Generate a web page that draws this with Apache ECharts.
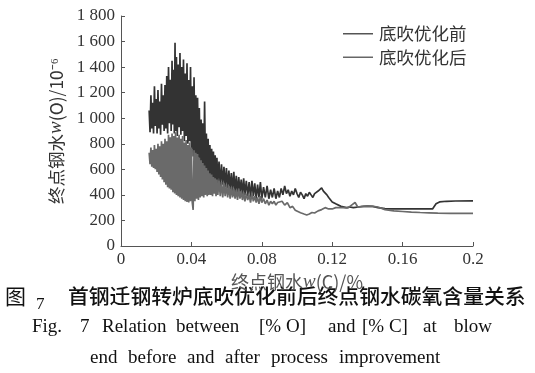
<!DOCTYPE html>
<html>
<head>
<meta charset="utf-8">
<script src="https://cdn.jsdelivr.net/npm/echarts@6/dist/echarts.min.js"></script>
<style>html,body{margin:0;padding:0;background:#fff}#c{width:535px;height:373px}</style>
</head>
<body>
<div id="c"></div>
<script>
const seriesNames = ['底吹优化前', '底吹优化后'];
const xTicks = ['0', '0.04', '0.08', '0.12', '0.16', '0.2'];
const yTicks = ['0', '200', '400', '600', '800', '1 000', '1 200', '1 400', '1 600', '1 800'];

// [w(C) %, w(O) 10^-6]
const before = [
[0.0160,1060],[0.0165,890],[0.0170,1180],[0.0175,920],[0.0180,1120],[0.0185,880],[0.0190,1250],[0.0195,940],
[0.0200,1150],[0.0205,880],[0.0210,1220],[0.0215,920],[0.0220,1130],[0.0225,870],[0.0230,1270],[0.0235,950],
[0.0240,1180],[0.0245,900],[0.0250,1260],[0.0255,920],[0.0260,1330],[0.0265,880],[0.0270,1400],[0.0275,960],
[0.0280,1300],[0.0285,900],[0.0290,1450],[0.0295,950],[0.0300,1380],[0.0303,880],[0.0307,1590],[0.0310,900],
[0.0315,1480],[0.0320,860],[0.0325,1420],[0.0330,930],[0.0335,1510],[0.0340,870],[0.0345,1400],[0.0350,900],
[0.0355,1460],[0.0360,820],[0.0365,1350],[0.0370,860],[0.0375,1430],[0.0380,800],[0.0385,1300],[0.0390,820],
[0.0395,1400],[0.0400,760],[0.0405,1250],[0.0410,700],[0.0415,1320],[0.0420,720],[0.0425,1180],[0.0430,660],
[0.0435,1160],[0.0440,690],[0.0445,1080],[0.0450,620],[0.0455,990],[0.0460,600],[0.0465,960],[0.0470,580],
[0.0475,1130],[0.0480,590],[0.0485,880],[0.0490,560],[0.0495,840],[0.0500,540],[0.0505,790],[0.0510,520],
[0.0515,760],[0.0520,530],[0.0525,740],[0.0530,500],[0.0535,710],[0.0540,510],[0.0545,690],[0.0550,490],
[0.0557,660],[0.0564,470],[0.0571,640],[0.0578,480],[0.0585,620],[0.0592,460],[0.0599,610],[0.0606,450],
[0.0613,590],[0.0620,440],[0.0627,570],[0.0634,430],[0.0641,580],[0.0648,420],[0.0655,550],[0.0662,410],
[0.0669,540],[0.0676,420],[0.0683,520],[0.0690,400],[0.0697,530],[0.0704,400],[0.0712,510],[0.0720,390],
[0.0728,500],[0.0736,380],[0.0744,510],[0.0752,390],[0.0760,490],[0.0768,370],[0.0776,480],[0.0784,380],
[0.0792,500],[0.0800,370],[0.0810,460],[0.0820,380],[0.0830,470],[0.0840,370],[0.0850,440],[0.0860,380],
[0.0870,450],[0.0880,370],[0.0890,430],[0.0900,380],[0.0910,450],[0.0920,400],[0.0930,470],[0.0940,410],
[0.0950,440],[0.0960,390],[0.0970,430],[0.0980,400],[0.0990,450],[0.1000,410],[0.1010,380],[0.1020,420],
[0.1030,400],[0.1040,370],[0.1050,410],[0.1060,390],[0.1070,420],[0.1080,400],[0.1090,380],[0.1100,410],
[0.1110,400],[0.1120,430],[0.1140,455],[0.1150,430],[0.1160,440],[0.1170,400],[0.1180,380],[0.1190,370],
[0.1200,345],[0.1210,360],[0.1220,330],[0.1230,340],[0.1250,310],[0.1260,300],[0.1280,300],[0.1300,305],
[0.1320,300],[0.1350,305],[0.1380,310],[0.1400,312],[0.1430,310],[0.1460,300],[0.1500,292],[0.1530,290],
[0.1600,290],[0.1700,290],[0.1770,290],[0.1790,330],[0.1810,345],[0.1850,350],[0.1900,352],[0.2000,353]
];

const after = [
[0.0160,730],[0.0165,640],[0.0170,770],[0.0175,620],[0.0180,750],[0.0185,610],[0.0190,790],[0.0195,600],
[0.0200,760],[0.0205,580],[0.0210,800],[0.0215,560],[0.0220,780],[0.0225,540],[0.0230,820],[0.0235,520],
[0.0240,800],[0.0245,500],[0.0250,840],[0.0255,480],[0.0260,820],[0.0265,460],[0.0270,870],[0.0275,450],
[0.0280,850],[0.0285,440],[0.0290,880],[0.0295,420],[0.0300,860],[0.0305,410],[0.0310,890],[0.0315,400],
[0.0320,850],[0.0325,390],[0.0330,870],[0.0335,380],[0.0340,840],[0.0345,370],[0.0350,860],[0.0355,360],
[0.0360,810],[0.0365,350],[0.0370,830],[0.0375,345],[0.0380,790],[0.0385,340],[0.0390,810],[0.0395,350],
[0.0400,770],[0.0405,340],[0.0410,282],[0.0415,750],[0.0420,350],[0.0425,730],[0.0430,370],[0.0435,720],
[0.0440,360],[0.0445,690],[0.0450,380],[0.0455,670],[0.0460,390],[0.0465,650],[0.0470,380],[0.0475,630],
[0.0480,400],[0.0485,610],[0.0490,390],[0.0495,590],[0.0500,400],[0.0505,570],[0.0510,400],[0.0515,560],
[0.0520,390],[0.0525,540],[0.0530,410],[0.0535,530],[0.0540,390],[0.0545,520],[0.0550,400],[0.0557,510],
[0.0564,390],[0.0571,500],[0.0578,380],[0.0585,490],[0.0592,390],[0.0599,480],[0.0606,380],[0.0613,470],
[0.0620,370],[0.0627,460],[0.0634,380],[0.0641,450],[0.0648,370],[0.0655,440],[0.0662,360],[0.0669,450],
[0.0676,370],[0.0683,430],[0.0690,360],[0.0697,420],[0.0704,350],[0.0712,410],[0.0720,360],[0.0728,400],
[0.0736,340],[0.0744,410],[0.0752,350],[0.0760,390],[0.0768,340],[0.0776,380],[0.0784,330],[0.0792,390],
[0.0800,340],[0.0810,370],[0.0820,330],[0.0830,360],[0.0840,320],[0.0850,350],[0.0860,330],[0.0870,350],
[0.0880,320],[0.0890,340],[0.0900,330],[0.0915,350],[0.0930,320],[0.0945,340],[0.0960,300],[0.0975,310],
[0.0990,280],[0.1005,270],[0.1020,260],[0.1040,250],[0.1055,243],[0.1070,250],[0.1085,262],[0.1100,258],
[0.1120,275],[0.1140,285],[0.1160,300],[0.1180,290],[0.1200,290],[0.1220,300],[0.1260,300],[0.1290,298],
[0.1310,320],[0.1330,340],[0.1345,305],[0.1370,310],[0.1400,312],[0.1430,310],[0.1460,305],[0.1500,285],
[0.1550,275],[0.1600,270],[0.1650,265],[0.1700,262],[0.1750,260],[0.1800,258],[0.1870,256],[0.2000,256]
];

const chart = echarts.init(document.getElementById('c'), null, {renderer: 'canvas'});
const serif = 'Liberation Serif';
const cjk = 'Noto Sans CJK SC';
const axisColor = '#555';
const capFont = '19px "Liberation Serif"';

function word(text, left, top, font) {
  return {type: 'text', left: left, top: top, style: {text: text, font: font || capFont, fill: '#111'}};
}

chart.setOption({
  animation: false,
  backgroundColor: '#fff',
  grid: {left: 121, right: 62, top: 16, bottom: 127, containLabel: false},
  legend: {
    data: seriesNames,
    orient: 'vertical',
    left: 343,
    top: 25,
    padding: 0,
    itemGap: 6,
    itemWidth: 30,
    itemHeight: 1.5,
    icon: 'rect',
    textStyle: {fontFamily: cjk, fontSize: 17.5, color: '#333', padding: [0, 0, 0, 1]}
  },
  xAxis: {
    type: 'value', min: 0, max: 0.2, interval: 0.04,
    name: '终点钢水{i|w}(C)/%',
    nameLocation: 'middle', nameGap: 19,
    nameTextStyle: {fontFamily: cjk, fontSize: 18, color: '#555',
      rich: {i: {fontFamily: serif, fontStyle: 'italic', fontSize: 19, color: '#555'}}},
    axisLine: {lineStyle: {color: axisColor, width: 1}},
    axisTick: {inside: true, length: 4, lineStyle: {color: axisColor}},
    splitLine: {show: false},
    axisLabel: {fontFamily: serif, fontSize: 17, color: '#333', margin: 5,
      formatter: (v) => xTicks[Math.round(v / 0.04)]}
  },
  yAxis: {
    type: 'value', min: 0, max: 1800, interval: 200,
    name: '终点钢水{i|w}(O)/10⁻⁶',
    nameLocation: 'middle', nameGap: 50, nameRotate: 90,
    nameTextStyle: {fontFamily: cjk, fontSize: 17.5, color: '#333',
      rich: {i: {fontFamily: serif, fontStyle: 'italic', fontSize: 19, color: '#333'}}},
    axisLine: {show: true, lineStyle: {color: axisColor, width: 1}},
    axisTick: {show: true, inside: true, length: 4, lineStyle: {color: axisColor}},
    splitLine: {show: false},
    axisLabel: {fontFamily: serif, fontSize: 17, color: '#333', margin: 6,
      formatter: (v) => yTicks[Math.round(v / 200)]}
  },
  series: [
    {name: seriesNames[0], type: 'line', data: before, showSymbol: false, z: 2,
     lineStyle: {color: '#333', width: 1.7}, itemStyle: {color: '#555'}},
    {name: seriesNames[1], type: 'line', data: after, showSymbol: false, z: 3,
     lineStyle: {color: '#6a6a6a', width: 1.7}, itemStyle: {color: '#666'}}
  ],
  graphic: [
    word('图', 5, 286, '21px "Noto Sans CJK SC"'),
    word('7', 36, 296, '17px "Liberation Serif"'),
    word('首钢迁钢转炉底吹优化前后终点钢水碳氧含量关系', 68, 286, '500 20.8px "Noto Sans CJK SC"'),
    word('Fig.', 32, 318), word('7', 80, 318),
    word('Relation', 102, 318), word('between', 176, 318),
    word('[% O]', 259, 318), word('and', 328, 318), word('[% C]', 362, 318),
    word('at', 423, 318), word('blow', 454, 318),
    word('end', 90, 349), word('before', 128, 349), word('and', 187, 349),
    word('after', 225, 349), word('process', 271, 349), word('improvement', 339, 349)
  ]
});
</script>
</body>
</html>
